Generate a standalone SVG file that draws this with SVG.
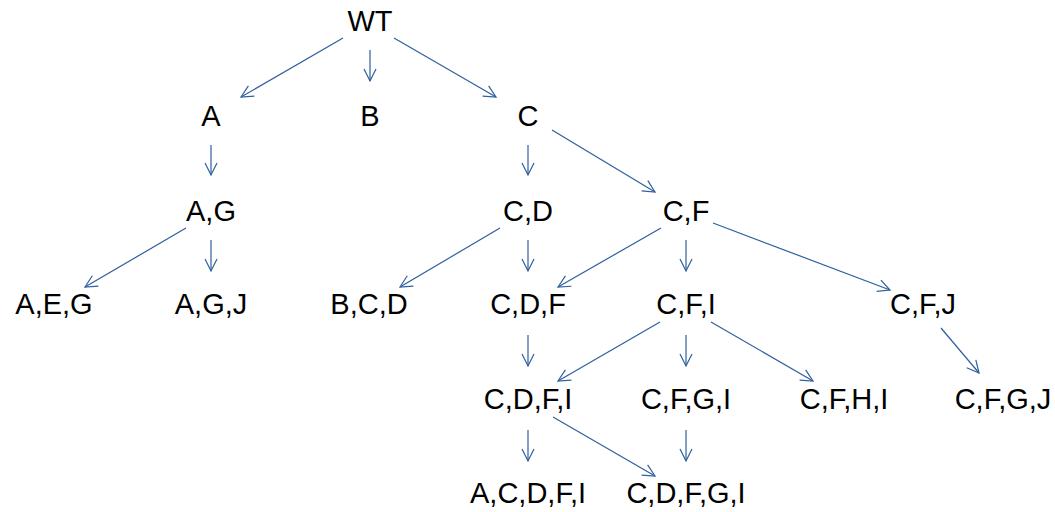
<svg xmlns="http://www.w3.org/2000/svg" width="1055" height="512" viewBox="0 0 1055 512">
<style>
text{font-family:"Liberation Sans",Arial,sans-serif;font-size:29px;fill:#000;text-anchor:middle}
.e line{stroke:#2E5F9E;stroke-width:1.2;marker-end:url(#ah)}
</style>
<defs>
<marker id="ah" markerUnits="userSpaceOnUse" markerWidth="16" markerHeight="16" viewBox="-14 -8 16 16" refX="0" refY="0" orient="auto">
<path d="M-12,-6 L0,0 L-12,6" fill="none" stroke="#2E5F9E" stroke-width="1.2"/>
</marker>
</defs>
<rect width="1055" height="512" fill="#fff"/>
<g class="e" id="connectors">
<line x1="343" y1="38" x2="241" y2="97"/>
<line x1="370" y1="50" x2="370" y2="81"/>
<line x1="394" y1="38" x2="496" y2="97"/>
<line x1="211" y1="145" x2="211" y2="175"/>
<line x1="528" y1="145" x2="528" y2="175"/>
<line x1="552" y1="130" x2="655" y2="192"/>
<line x1="186" y1="228" x2="85" y2="287"/>
<line x1="211" y1="240" x2="211" y2="271"/>
<line x1="500" y1="228" x2="400" y2="287"/>
<line x1="528" y1="240" x2="528" y2="271"/>
<line x1="661" y1="228" x2="558" y2="287"/>
<line x1="686" y1="240" x2="686" y2="271"/>
<line x1="713" y1="223" x2="890" y2="290"/>
<line x1="528" y1="335" x2="528" y2="366"/>
<line x1="660" y1="322" x2="558" y2="381"/>
<line x1="686" y1="335" x2="686" y2="366"/>
<line x1="711" y1="322" x2="813" y2="381"/>
<line x1="941" y1="328" x2="979" y2="373"/>
<line x1="528" y1="430" x2="528" y2="461"/>
<line x1="553" y1="417" x2="655" y2="476"/>
<line x1="686" y1="430" x2="686" y2="461"/>
</g>
<g id="n-WT"><text x="370" y="31">WT</text></g>
<g id="n-A"><text x="211" y="126">A</text></g>
<g id="n-B"><text x="370" y="126">B</text></g>
<g id="n-C"><text x="528" y="126">C</text></g>
<g id="n-AG"><text x="211" y="221">A,G</text></g>
<g id="n-CD"><text x="528" y="221">C,D</text></g>
<g id="n-CF"><text x="686" y="221">C,F</text></g>
<g id="n-AEG"><text x="54" y="314">A,E,G</text></g>
<g id="n-AGJ"><text x="211" y="314">A,G,J</text></g>
<g id="n-BCD"><text x="369" y="314">B,C,D</text></g>
<g id="n-CDF"><text x="528" y="314">C,D,F</text></g>
<g id="n-CFI"><text x="686" y="314">C,F,I</text></g>
<g id="n-CFJ"><text x="923" y="314">C,F,J</text></g>
<g id="n-CDFI"><text x="528" y="409">C,D,F,I</text></g>
<g id="n-CFGI"><text x="686" y="409">C,F,G,I</text></g>
<g id="n-CFHI"><text x="844" y="409">C,F,H,I</text></g>
<g id="n-CFGJ"><text x="1003" y="409">C,F,G,J</text></g>
<g id="n-ACDFI"><text x="528" y="503">A,C,D,F,I</text></g>
<g id="n-CDFGI"><text x="686" y="503">C,D,F,G,I</text></g>
</svg>
